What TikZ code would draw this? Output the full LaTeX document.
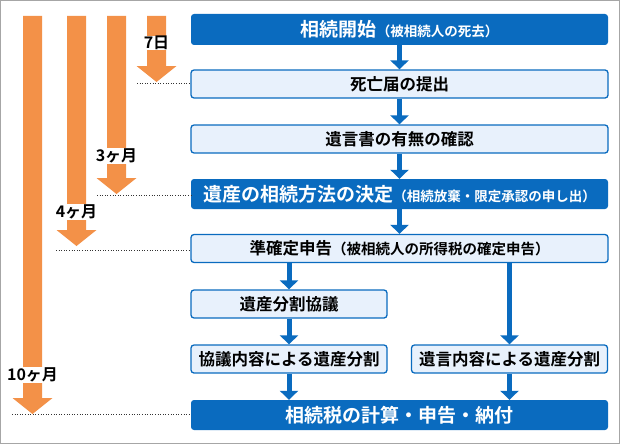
\documentclass[tikz,border=0pt]{standalone}
\usepackage{fontspec}
\usetikzlibrary{arrows.meta}
\newfontfamily\jp{Noto Sans CJK JP}[BoldFont={Noto Sans CJK JP Bold}]
\newcommand{\smd}{\fontsize{13.5}{13.5}\selectfont}
\newcommand{\sml}{\fontsize{14.5}{14.5}\selectfont}
\begin{document}
\begin{tikzpicture}[x=1pt,y=-1pt,
  dark/.style={draw=none,fill=dblue,rounded corners=3pt,text=white,font=\jp\bfseries\fontsize{19}{19}\selectfont,inner sep=0pt},
  light/.style={draw=dblue,line width=1.3pt,fill=lblue,rounded corners=3pt,text=black,font=\jp\bfseries\fontsize{16.5}{16.5}\selectfont,inner sep=0pt},
  lab/.style={fill=white,font=\jp\bfseries\fontsize{16}{16}\selectfont,inner sep=0.5pt,text=black},
  dot/.style={dotted,line width=0.6pt,black!80}]
\definecolor{dblue}{HTML}{0A6BBF}
\definecolor{lblue}{HTML}{E8F1FC}
\definecolor{orng}{HTML}{F39148}
\useasboundingbox (0,0) rectangle (620,444);
\draw[gray!70,line width=1pt] (0.5,0.5) rectangle (619.5,443.5);
% orange arrows
\newcommand{\oarr}[2]{\fill[orng] (#1-9.5,16) -- (#1+9.5,16) -- (#1+9.5,#2-16) -- (#1+20,#2-16) -- (#1,#2) -- (#1-20,#2-16) -- (#1-9.5,#2-16) -- cycle;}
\oarr{32.5}{414}
\oarr{76.5}{246}
\oarr{116.5}{194}
\oarr{156.5}{82}
\node[lab] (l1) at (156.5,43) {7日};
\node[lab] (l2) at (116.5,156) {3ヶ月};
\node[lab] (l3) at (76.5,212) {4ヶ月};
\node[lab] (l4) at (32.5,375) {10ヶ月};
% boxes
\node[dark,minimum width=417pt,minimum height=31pt] (b1) at (399.5,29.5) {相続開始{\smd（被相続人の死去）}};
\node[light,minimum width=417pt,minimum height=28pt] (b2) at (399.5,84) {死亡届の提出};
\node[light,minimum width=417pt,minimum height=28pt] (b3) at (399.5,139) {遺言書の有無の確認};
\node[dark,minimum width=417pt,minimum height=30pt] (b4) at (399.5,194) {遺産の相続方法の決定{\smd（相続放棄・限定承認の申し出）}};
\node[light,minimum width=417pt,minimum height=28pt] (b5) at (399.5,248.5) {準確定申告{\sml（被相続人の所得税の確定申告）}};
\node[light,minimum width=196pt,minimum height=28pt] (b6) at (289,304) {遺産分割協議};
\node[light,minimum width=196pt,minimum height=28pt] (b7) at (289,359) {協議内容による遺産分割};
\node[light,minimum width=196pt,minimum height=28pt] (b8) at (509.5,359) {遺言内容による遺産分割};
\node[dark,minimum width=417pt,minimum height=30pt] (b9) at (399.5,415) {相続税の計算・申告・納付};
% dotted lines
\coordinate (d1) at (137,83); \draw[dot] (d1) -- (b2.west|-d1);
\coordinate (d2) at (97,195); \draw[dot] (d2) -- (b4.west|-d2);
\coordinate (d3) at (56,250); \draw[dot] (d3) -- (b5.west|-d3);
\coordinate (d4) at (12,414); \draw[dot] (d4) -- (b9.west|-d4);
% blue arrows
\tikzset{barr/.style={dblue,line width=5pt,-{Triangle[width=18pt,length=9pt]}}}
\draw[barr] (b1.south) -- (b2.north);
\draw[barr] (b2.south) -- (b3.north);
\draw[barr] (b3.south) -- (b4.north);
\draw[barr] (b4.south) -- (b5.north);
\draw[barr] (b5.south-|b6.north) -- (b6.north);
\draw[barr] (b6.south) -- (b7.north);
\draw[barr] (b7.south) -- (b7.south|-b9.north);
\draw[barr] (b5.south-|b8.north) -- (b8.north);
\draw[barr] (b8.south) -- (b8.south|-b9.north);
\end{tikzpicture}
\end{document}
